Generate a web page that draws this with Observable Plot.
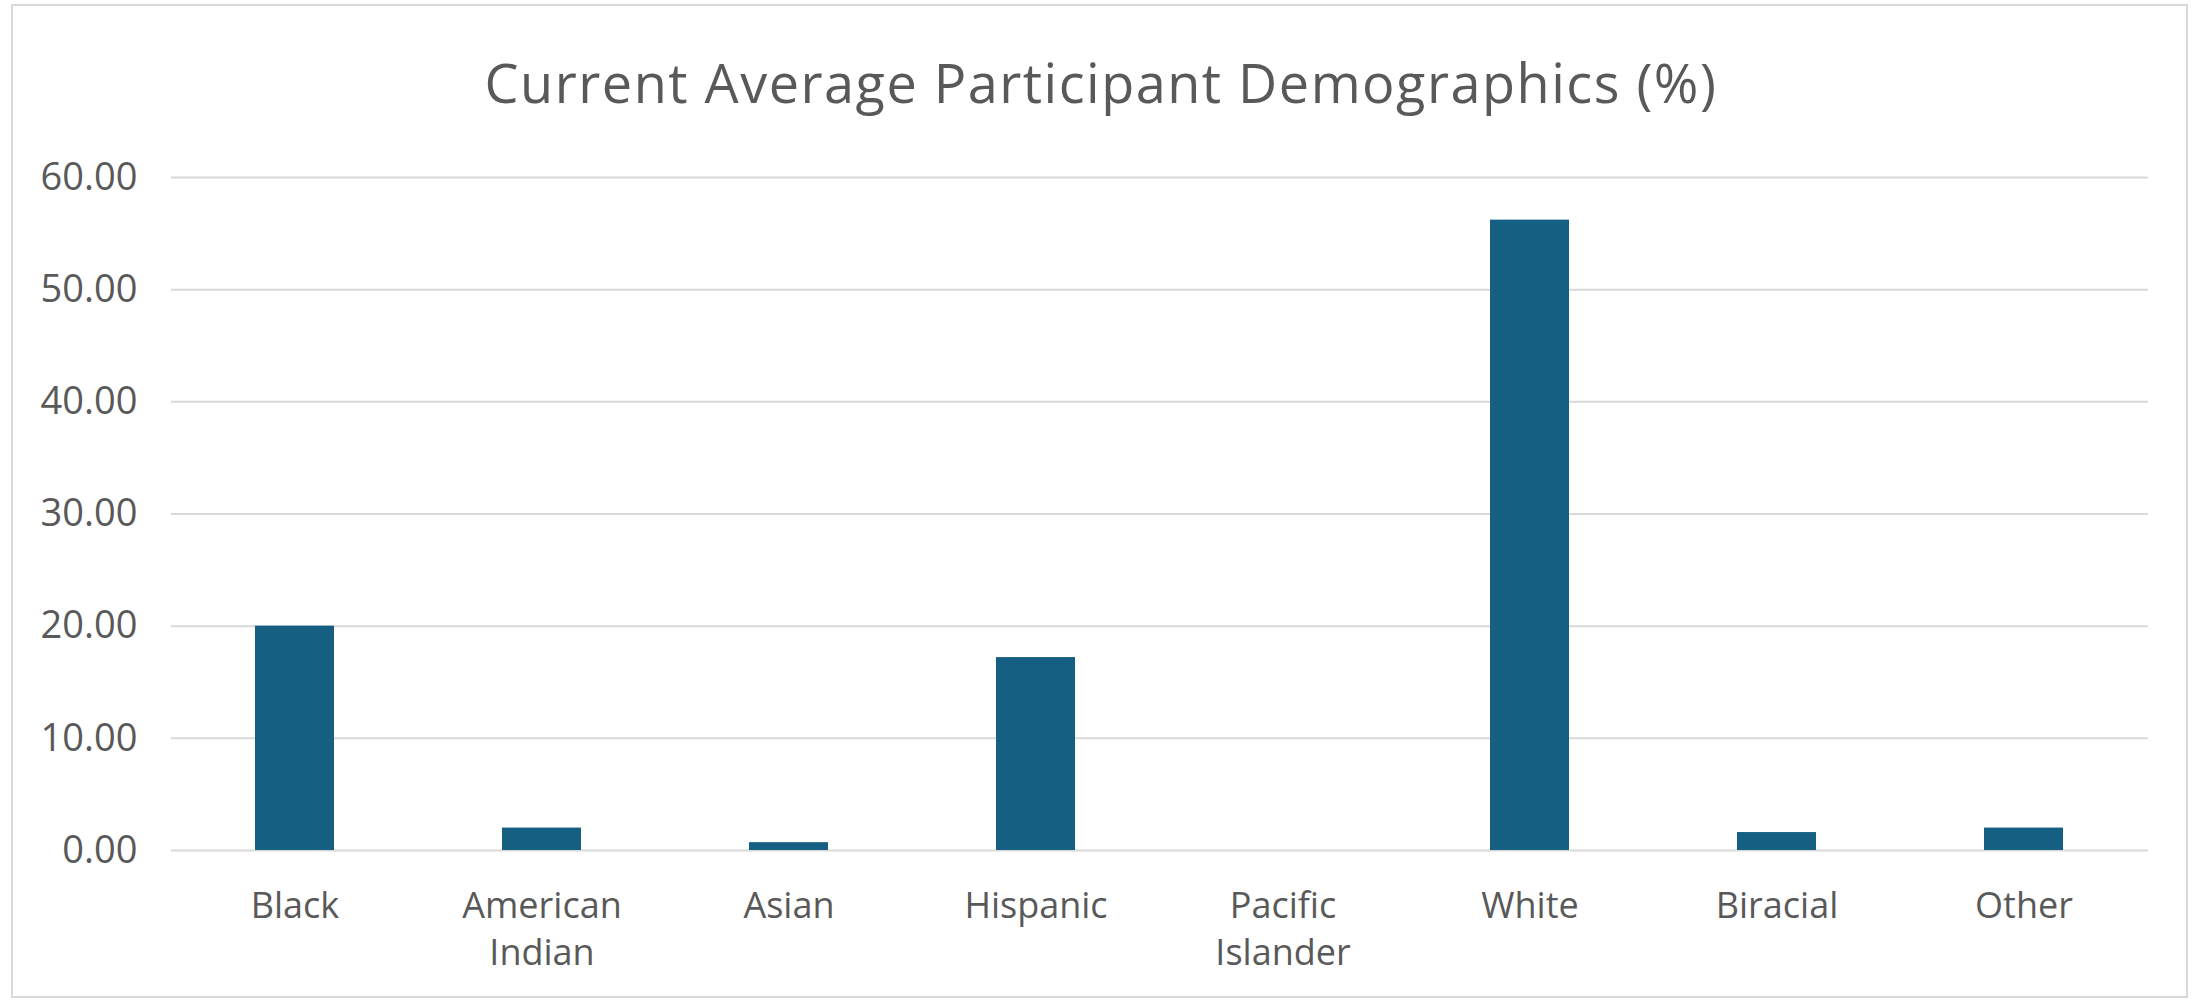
<!DOCTYPE html>
<html>
<head>
<meta charset="utf-8">
<script src="https://cdn.jsdelivr.net/npm/d3@7"></script>
<script src="https://cdn.jsdelivr.net/npm/@observablehq/plot@0.6"></script>
<style>
  html, body { margin: 0; padding: 0; background: #ffffff; }
  body { width: 2202px; height: 1001px; position: relative; overflow: hidden; font-family: "Open Sans", sans-serif; }
  #frame {
    position: absolute; left: 11px; top: 4px; width: 2177px; height: 994px;
    box-sizing: border-box; border: 2px solid #d9d9d9; background: #ffffff;
  }
  #title {
    position: absolute; left: 0; top: 55px; width: 2202px; text-align: center;
    font-size: 54px; letter-spacing: 1.5px; line-height: 1; color: #595959; font-weight: 400; white-space: nowrap;
  }
  #chart { position: absolute; left: 0; top: 140px; width: 2202px; }
</style>
</head>
<body>
<div id="frame"></div>
<div id="title">Current Average Participant Demographics (%)</div>
<div id="chart"></div>
<script>
// Average share of participants by group, in percent
const categories = ["Black", "American Indian", "Asian", "Hispanic", "Pacific Islander", "White", "Biracial", "Other"];
const categoryLabels = ["Black", "American\nIndian", "Asian", "Hispanic", "Pacific\nIslander", "White", "Biracial", "Other"];
const percentages = [20.0, 2.0, 0.7, 17.2, 0.0, 56.2, 1.6, 2.0];
const yTicks = [0, 10, 20, 30, 40, 50, 60];

const data = categories.map((c, i) => ({category: c, value: percentages[i]}));
const labelOf = new Map(categories.map((c, i) => [c, categoryLabels[i]]));

const textColor = "#595959";
const gridColor = "#d9d9d9";
const barColor = "#156082";

const chart = Plot.plot({
  width: 2202,
  height: 860,
  marginLeft: 171,
  marginRight: 54,
  marginTop: 37,
  marginBottom: 150,
  style: {fontFamily: "'Open Sans', sans-serif", color: textColor, background: "transparent"},
  // equal-width category slots, bars fill about a third of each
  x: {domain: categories, paddingInner: 0.68, paddingOuter: 0.34, label: null},
  y: {domain: [0, 60], label: null},
  marks: [
    Plot.gridY(yTicks, {stroke: gridColor, strokeOpacity: 1, strokeWidth: 2}),
    Plot.barY(data, {x: "category", y: "value", fill: barColor}),
    Plot.axisY(yTicks, {
      tickSize: 0, tickPadding: 34, fontSize: 38, fill: textColor,
      tickFormat: d3.format(".2f"), label: null
    }),
    Plot.axisX({
      tickSize: 0, tickPadding: 34, fontSize: 36, fill: textColor, lineHeight: 1.3,
      tickFormat: d => labelOf.get(d), label: null
    })
  ]
});

document.getElementById("chart").appendChild(chart);
</script>
</body>
</html>
